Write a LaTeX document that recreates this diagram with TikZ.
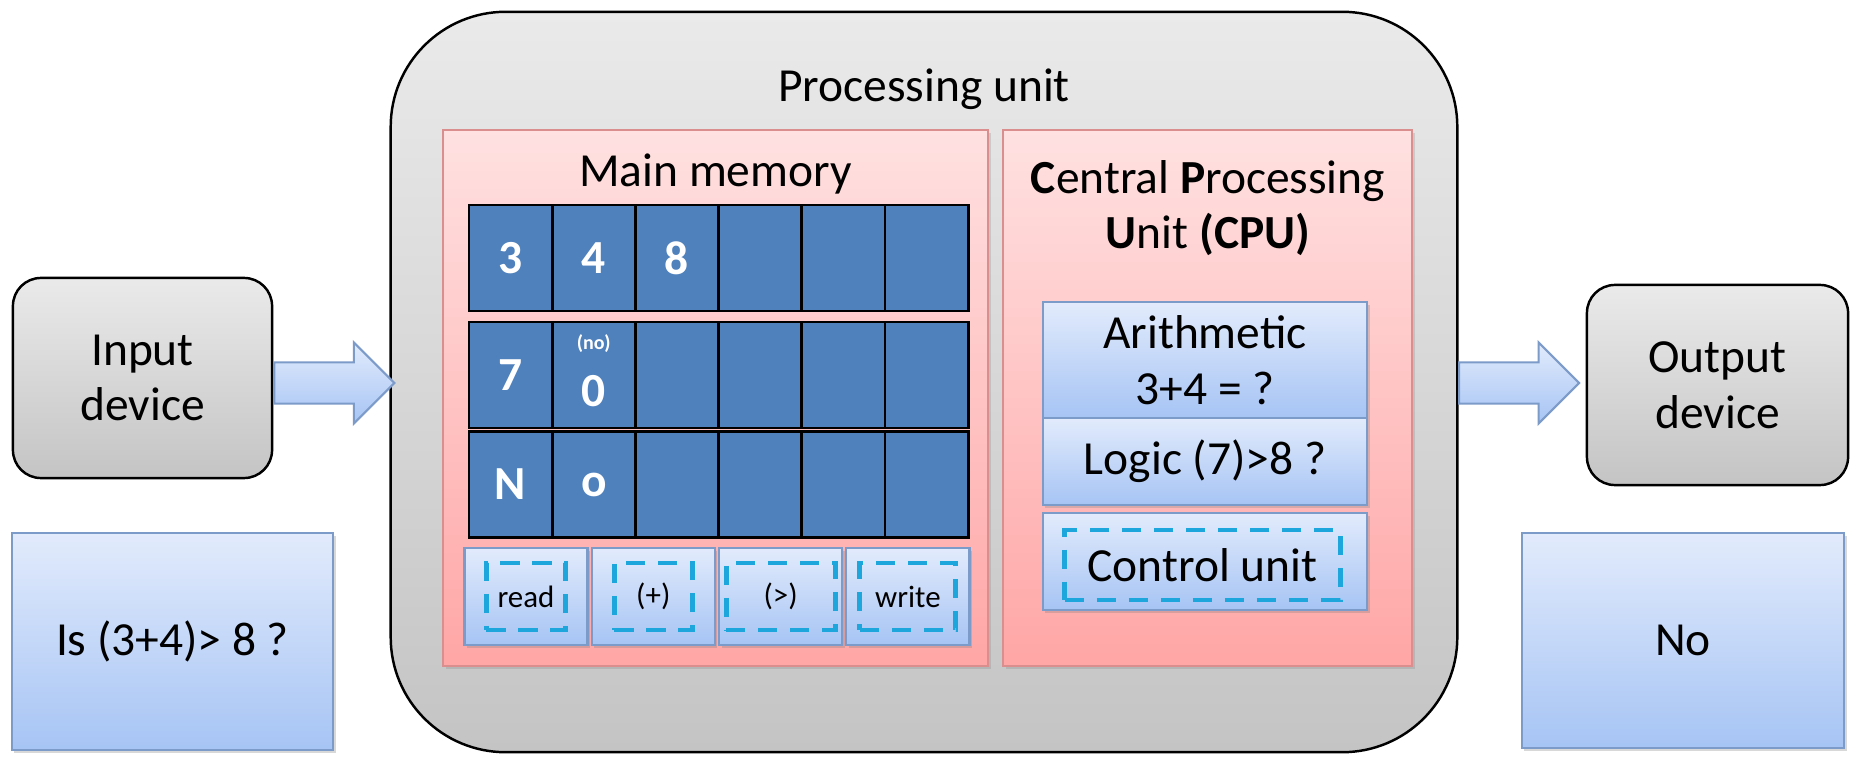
\documentclass[tikz,border=0pt]{standalone}
\usepackage{fontspec}
\setmainfont{Carlito}
\usetikzlibrary{shapes.arrows, shadows}

\definecolor{cellblue}{HTML}{4F81BD}
\definecolor{dashblue}{HTML}{1CA6DB}
\definecolor{blueline}{HTML}{7D9BC9}
\definecolor{bluetop}{HTML}{E2EBFC}
\definecolor{bluebot}{HTML}{A6C4F4}
\definecolor{pinkline}{HTML}{DB8E8E}
\definecolor{pinktop}{HTML}{FFE1E1}
\definecolor{pinkbot}{HTML}{FFA6A6}
\definecolor{graytop}{HTML}{EAEAEA}
\definecolor{graybot}{HTML}{C4C4C4}

\newcommand{\bigtxt}{\fontsize{13.5}{15.8}\selectfont}

\tikzset{
  graybox/.style={draw=black, line width=0.7pt, top color=graytop, bottom color=graybot, align=center, font=\bigtxt},
  pinkbox/.style={draw=pinkline, line width=0.5pt, top color=pinktop, bottom color=pinkbot, drop shadow={shadow xshift=0.03cm, shadow yshift=-0.03cm, opacity=0.25}},
  bluebox/.style={draw=blueline, line width=0.6pt, top color=bluetop, bottom color=bluebot, align=center, font=\bigtxt, drop shadow={shadow xshift=0.025cm, shadow yshift=-0.03cm, opacity=0.3}},
  cell/.style={draw=black, line width=0.8pt, fill=cellblue, minimum width=0.832cm, minimum height=1.06cm, inner sep=0pt},
  celltxt/.style={text=white, font=\bigtxt\bfseries, inner sep=0pt},
  dashbox/.style={draw=dashblue, line width=1.4pt, dash pattern=on 5.5pt off 3.6pt, inner sep=0pt},
  blockarrow/.style={single arrow, draw=blueline, line width=0.6pt, top color=bluetop, bottom color=bluebot, minimum height=1.2cm, inner xsep=0pt, inner ysep=0.195cm, single arrow head extend=0.2cm, single arrow head indent=0pt}
}

\begin{document}
\begin{tikzpicture}[x=0.01cm, y=-0.01cm]
  \path[use as bounding box, fill=white] (0,0) rectangle (1864,758);

  \node[graybox, rounded corners=1.15cm, minimum width=10.66cm, minimum height=7.4cm] (pu) at (924,382) {};
  \node[font=\bigtxt, anchor=base] (putitle) at (924,102) {Processing unit};

  \node[graybox, rounded corners=0.28cm, minimum width=2.59cm, minimum height=2cm] (indev) at (142.5,378) {Input\\device};
  \node[graybox, rounded corners=0.28cm, minimum width=2.61cm, minimum height=2cm] (outdev) at (1717.5,385) {Output\\device};
  \node[blockarrow, anchor=tail] (arrin) at ([yshift=-0.05cm]indev.east) {};
  \node[blockarrow, anchor=tip] (arrout) at ([xshift=-0.05cm, yshift=0.02cm]outdev.west) {};

  \node[bluebox, minimum width=3.21cm, minimum height=2.17cm] (ask) at (172.5,641.5) {Is (3+4)> 8 ?};
  \node[bluebox, minimum width=3.22cm, minimum height=2.15cm] (answer) at (1683,640.5) {No};

  % main memory
  \node[pinkbox, minimum width=5.45cm, minimum height=5.36cm] (mem) at (715.5,398) {};
  \node[font=\bigtxt, anchor=base] (memtitle) at (715.5,187) {Main memory};
  \foreach \r/\ry in {1/258, 2/375, 3/484.5}
    \foreach \c in {1,...,6}
      \node[cell] (c\r\c) at ({469+83.2*(\c-0.5)}, \ry) {};
  \foreach \r/\c/\lbl in {1/1/3, 1/2/4, 1/3/8, 2/1/7, 3/1/N, 3/2/o}
    \node[celltxt] at (c\r\c) {\lbl};
  \node[celltxt] (zero) at ([yshift=-0.16cm]c22) {0};
  \node[celltxt, font=\fontsize{5.7}{6}\selectfont\bfseries] (notag) at ([yshift=0.31cm]c22) {(no)};
  \foreach \i/\lbl/\dw in {0/read/0.79, 1/(+)/0.78, 2/(>)/1.09, 3/write/0.96} {
    \node[bluebox, minimum width=1.23cm, minimum height=0.97cm] (op\i) at ({526+127.3*\i}, 596.5) {};
    \node[dashbox, minimum width=\dw cm, minimum height=0.67cm, font=\fontsize{8.8}{10}\selectfont] (opdash\i) at (op\i) {\lbl};
  }

  % cpu
  \node[pinkbox, minimum width=4.09cm, minimum height=5.36cm] (cpu) at (1207.5,398) {};
  \node[font=\bigtxt, align=center] (cputitle) at (1208,208) {\textbf{C}entral \textbf{P}rocessing\\\textbf{U}nit \textbf{(CPU)}};
  \node[bluebox, minimum width=3.24cm, minimum height=1.16cm] (arith) at (1205,360) {Arithmetic\\3+4 = ?};
  \node[bluebox, minimum width=3.24cm, minimum height=0.87cm] (logic) at (1205,461.5) {Logic (7)>8 ?};
  \node[bluebox, minimum width=3.24cm, minimum height=0.97cm] (ctrl) at (1205,561.5) {};
  \node[dashbox, font=\bigtxt, minimum width=2.75cm, minimum height=0.7cm] (ctrlunit) at (1202.5,565) {Control unit};
\end{tikzpicture}
\end{document}
